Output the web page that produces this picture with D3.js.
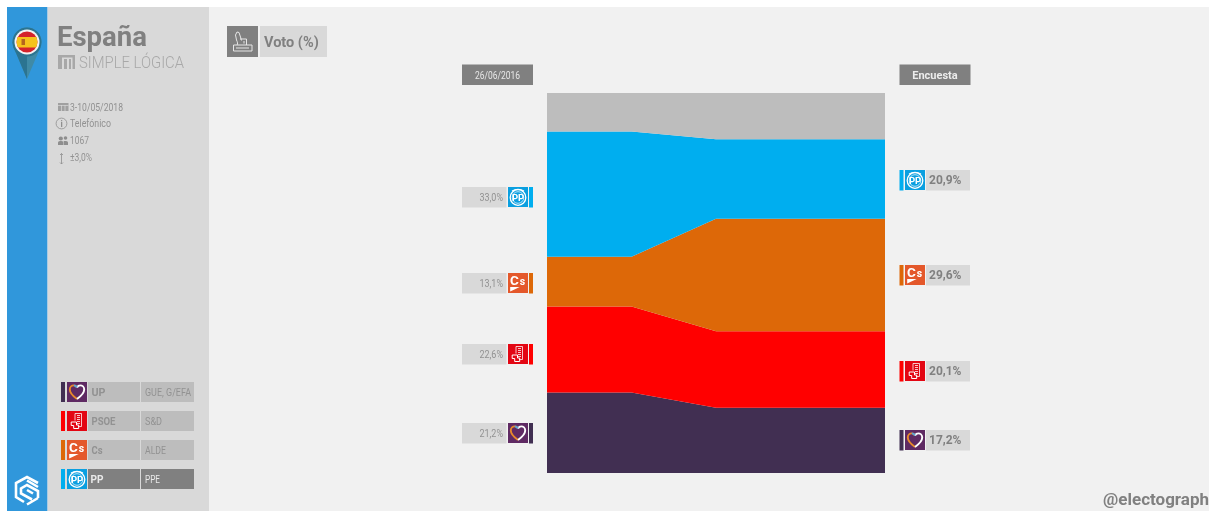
<!DOCTYPE html>
<html><head><meta charset="utf-8">
<script src="https://cdn.jsdelivr.net/npm/d3@7"></script>
<style>html,body{margin:0;padding:0;background:#fff;overflow:hidden}svg{display:block;filter:blur(0.35px)}text{font-family:Roboto,sans-serif}</style>
</head><body><svg id="c" width="1209" height="511"></svg>
<script>
// ---- data ----
const parties = ["UP","PSOE","Cs","PP","Otros"];
const eleccion2016 = [21.2,22.6,13.1,33.0,10.1];
const encuesta = [17.2,20.1,29.6,20.9,12.2];
const partyColors = ["#412f52","#ff0000","#dd6808","#00aeef","#bdbdbd"];
const iconColors = ["#5f2a63","#e30613","#e4582b","#0a9fe0"];
const europeanGroups = ["GUE, G/EFA","S&D","ALDE","PPE"];
const flowStops = [0,1,2,4];
const flowSource = [eleccion2016,eleccion2016,encuesta,encuesta];
const metaLines = ["3-10/05/2018","Telefónico","1067","±3,0%"];
const headers = ["26/06/2016","Encuesta"];

const fmt = v => v.toFixed(1).replace(".",",")+"%";
const svg = d3.select("#c");
const rect=(g,x,y,w,h,f)=>g.append("rect").attr("x",x).attr("y",y).attr("width",w).attr("height",h).attr("fill",f);
const text=(g,s,x,y,o={})=>{const t=g.append("text").text(s).attr("x",x).attr("y",y)
  .attr("font-size",o.size||10).attr("font-weight",o.weight||400).attr("fill",o.fill||"#8e8e8e")
  .attr("text-anchor",o.anchor||"start");
  if(o.len)t.attr("textLength",o.len).attr("lengthAdjust","spacingAndGlyphs");return t;};

// ---- backgrounds ----
rect(svg,7,7,1202,504,"#f1f1f1");
rect(svg,7,7,40,504,"#3097db");
rect(svg,47,7,162,504,"#d9d9d9");
rect(svg,47,7,1,504,"#a9cbe4");

// ---- stacked flow ----
const x = d3.scaleLinear().domain([0,4]).range([547,885]);
const y = d3.scaleLinear().domain([0,100]).range([473,93]);
const rows = flowStops.map((s,i)=>{const r={stop:s};parties.forEach((p,j)=>r[p]=flowSource[i][j]);return r;});
const stack = d3.stack().keys(parties)(rows);
const area = d3.area().x(d=>x(d.data.stop)).y0(d=>y(d[0])).y1(d=>y(d[1])).curve(d3.curveLinear);
svg.append("g").selectAll("path").data(stack).join("path")
  .attr("d",area).attr("fill",(d,i)=>partyColors[i]);

// ---- icons ----
function icon(g,i,ix,iy,s=20){
  const n=g.append("g").attr("transform",`translate(${ix},${iy}) scale(${s/20})`);
  rect(n,0,0,20,20,iconColors[i]);
  if(i===0){
    n.append("path").attr("d","M10 17C5 13.5 2.8 10.5 2.8 7.6C2.8 5 4.8 3.4 6.8 3.4C8.2 3.4 9.3 4.2 10 5.4").attr("fill","none").attr("stroke","#e8892b").attr("stroke-width",1.9);
    n.append("path").attr("d","M10 5.4C10.7 4.2 11.8 3.4 13.2 3.4C15.2 3.4 17.2 5 17.2 7.6C17.2 10.5 15 13.5 10 17").attr("fill","none").attr("stroke","#fff").attr("stroke-width",1.9);
    n.append("path").attr("d","M6.8 3.4C8.2 3.4 9.3 4.2 10 5.4").attr("fill","none").attr("stroke","#5aa6d8").attr("stroke-width",1.9);
  } else if(i===1){
    n.append("path").attr("d","M8 2.5h6.5v13h-3.5M8 2.5v7M10 4.5h3M10 6.5h3M10 8.5h3M10 10.5h3M10 12.5h3").attr("fill","none").attr("stroke","#fff").attr("stroke-width",.9).attr("opacity",.85);
    n.append("path").attr("d","M4.2 11h5.3v3h2.2v3.5h-5v-3h-2.5z").attr("fill","none").attr("stroke","#fff").attr("stroke-width",1);
  } else if(i===2){
    const t=text(n,"C",2,11.5,{size:13.5,weight:700,fill:"#fff"});
    t.append("tspan").text("s").attr("dx",1).attr("font-size",10.5);
    n.append("path").attr("d","M2.2 14h9.5l-9.5 4.6z").attr("fill","#fff");
  } else {
    n.append("circle").attr("cx",10).attr("cy",10.5).attr("r",7.8).attr("fill","none").attr("stroke","#fff").attr("stroke-width",1.3);
    n.append("path").attr("d","M4 4Q10 .6 16 4").attr("fill","none").attr("stroke","#fff").attr("stroke-width",1.1);
    n.append("circle").attr("cx",10).attr("cy",10.5).attr("r",5.8).attr("fill","none").attr("stroke","#fff").attr("stroke-width",.7);
    text(n,"PP",10,14,{size:9.5,weight:700,fill:"#fff",anchor:"middle"});
  }
}

// ---- labels ----
const mid=(vals,i)=>{const b=d3.sum(vals.slice(0,i));return y(b+vals[i]/2);};
const leftNudge=[0.5,4,1,2.5], rightNudge=[0,1.5,0,1];
[0,1,2,3].forEach(i=>{
  const ly=Math.round(mid(eleccion2016,i)+leftNudge[i]);
  rect(svg,462,ly-10,44.5,20.5,"#d9d9d9");
  icon(svg,i,508,ly-10);
  rect(svg,529,ly-10,4,20.5,partyColors[i]);
  text(svg,fmt(eleccion2016[i]),503,ly+3.5,{anchor:"end",size:10,len:23.5,fill:"#929292"});
  const ry=Math.round(mid(encuesta,i)+rightNudge[i]);
  rect(svg,899.5,ry-10,4,20.5,partyColors[i]);
  icon(svg,i,905,ry-10);
  rect(svg,926,ry-10,44,20.5,"#d9d9d9");
  text(svg,fmt(encuesta[i]),961.5,ry+4,{anchor:"end",size:12,weight:700,fill:"#808080"});
});

// ---- headers ----
rect(svg,462,64.5,71,20.5,"#808080");
text(svg,headers[0],497.5,78.5,{anchor:"middle",size:10,len:45,fill:"#e6e6e6"});
rect(svg,899.5,64.5,71,20.5,"#808080");
text(svg,headers[1],935,79,{anchor:"middle",size:11,weight:700,fill:"#ececec"});

// ---- section tag ----
rect(svg,227,26,31,31,"#808080");
rect(svg,260,26,67,31,"#d9d9d9");
text(svg,"Voto (%)",264,47,{size:14.5,weight:700,fill:"#808080"});
svg.append("path").attr("d","M233.5 51h18.5v-6h-18.5zM237 45c1-1 .5-3 -.5-5l-1-5 1.5-3 2 .5 1.5 4.5 1 3.5M240 39h6.5v6M236 48h13M244 41v2.5")
  .attr("fill","none").attr("stroke","#e6e6e6").attr("stroke-width",1);

// ---- sidebar heading ----
text(svg,"España",57,46,{size:28,weight:700,fill:"#808080",len:90});
text(svg,"SIMPLE LÓGICA",79,68,{size:16.5,weight:300,fill:"#a8a8a8",len:105});
rect(svg,58,55,17,2.5,"#a8a8a8");rect(svg,58,57,4,12,"#a8a8a8");rect(svg,64,59,3,10,"#a8a8a8");rect(svg,69,59,2,10,"#a8a8a8");rect(svg,72.5,57,2.5,12,"#a8a8a8");

// ---- meta ----
metaLines.forEach((s,i)=>text(svg,s,70,[110.5,127,144,161][i],{size:10,fill:"#929292",len:[53,41,19,22][i]}));
const mi=svg.append("g");
rect(mi,58,103,10.5,8,"#a0a0a0");
mi.append("path").attr("d","M58 105.5h10.5M61.5 105v6M65 105v6").attr("stroke","#d9d9d9").attr("stroke-width",.7);
mi.append("circle").attr("cx",61.5).attr("cy",123.5).attr("r",5.4).attr("fill","none").attr("stroke","#8e8e8e").attr("stroke-width",.8);
text(mi,"i",61.5,127,{size:8.5,anchor:"middle",weight:700,fill:"#8e8e8e"});
mi.append("path").attr("d","M58 145v-2.5q0-1.5 2-1.5h1.5q2 0 2 1.5v2.5zM64 145v-2.5q0-1 -.5-1.5h2.5q2 0 2 1.5v2.5z").attr("fill","#8e8e8e");
mi.append("circle").attr("cx",60.8).attr("cy",138.5).attr("r",2.1).attr("fill","#8e8e8e");
mi.append("circle").attr("cx",65.5).attr("cy",138).attr("r",1.8).attr("fill","#8e8e8e");
mi.append("path").attr("d","M61.5 153.5v10.5M60 155l1.5-1.5 1.5 1.5M60 162.5l1.5 1.5 1.5-1.5").attr("fill","none").attr("stroke","#8e8e8e").attr("stroke-width",.8);

// ---- legend ----
const legendY = d3.scalePoint().domain(parties.slice(0,4)).range([382,469]);
parties.slice(0,4).forEach((p,i)=>{
  const ly=legendY(p), active=p==="PP";
  const box=active?"#808080":"#bdbdbd", ink=active?"#e8e8e8":"#929292";
  rect(svg,61,ly,4,20,partyColors[i]);
  icon(svg,i,67,ly);
  rect(svg,88,ly,52,20,box);
  rect(svg,141,ly,53,20,box);
  text(svg,p,active?90.5:91.5,ly+14,{size:11,weight:700,fill:ink,len:[14,24,11,13][i]});
  text(svg,europeanGroups[i],145,ly+14,{size:10,fill:ink,len:[46,17,21,15][i]});
});

// ---- pin ----
const pin=svg.append("g");
pin.append("path").attr("d","M12.5 42A14.5 14.5 0 1 1 41.5 42Q41 48 38 53L27 79L16 53Q13 48 12.5 42Z").attr("fill","#3f8aa6");
pin.append("path").attr("d","M27 79L16 53Q13 48 12.5 42H27Z").attr("fill","#2b7491");
pin.append("circle").attr("cx",27).attr("cy",42).attr("r",14.5).attr("fill","#2b7491");
pin.append("circle").attr("cx",27).attr("cy",42).attr("r",12.5).attr("fill","#f3f3f3");
const cp=svg.append("clipPath").attr("id","flag");
cp.append("circle").attr("cx",27).attr("cy",42).attr("r",10.5);
const fl=svg.append("g").attr("clip-path","url(#flag)");
rect(fl,15,30,24,24,"#d4232c");
rect(fl,15,37,24,10.5,"#f6c21c");
rect(fl,21.5,39,3.5,6,"#b5651d");

// ---- brand logo ----
svg.append("path").attr("d","M38 483L27 477L16 483V497L24 502M38 498L27 504.5M38 498V491L27 485L21 488.5V493.5L32 499.5M27 490L33 493.5M27 480.5L38 487")
  .attr("fill","none").attr("stroke","#fff").attr("stroke-width",2.6);

// ---- signature ----
text(svg,"@electograph",1209,505,{anchor:"end",size:17,weight:700,fill:"#808080"});
</script></body></html>
